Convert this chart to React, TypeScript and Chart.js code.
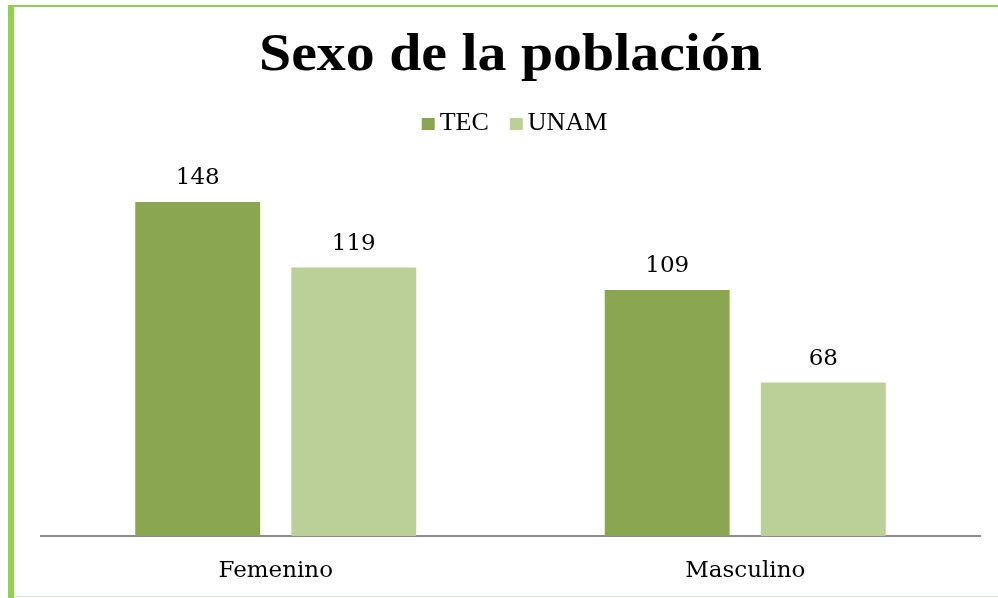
import React, { useEffect, useRef } from "react";
import { Chart, registerables } from "chart.js";

Chart.register(...registerables);

const chartTitle = "Sexo de la población";
const categories = ["Femenino", "Masculino"];
const seriesNames = ["TEC", "UNAM"];
const tecValues = [148, 109];
const unamValues = [119, 68];
const seriesColors = ["#8BA651", "#BBCF98"];

const labelFont = "23px 'DejaVu Serif'";

const decorPlugin = {
  id: "decor",
  beforeDraw(chart: any) {
    const ctx = chart.ctx;
    ctx.save();
    ctx.fillStyle = "#ffffff";
    ctx.fillRect(0, 0, chart.width, chart.height);
    ctx.fillStyle = "#92D050";
    ctx.fillRect(8, 5, 6, chart.height - 5);
    ctx.fillRect(8, 5, chart.width - 8, 2);
    ctx.fillStyle = "#D8EBC8";
    ctx.fillRect(14, chart.height - 2, chart.width - 14, 1);
    ctx.restore();
  },
  afterDraw(chart: any) {
    const ctx = chart.ctx;
    const area = chart.chartArea;
    const cx = (area.left + area.right) / 2;
    ctx.save();
    // title
    ctx.fillStyle = "#000000";
    ctx.font = "bold 53px 'Liberation Serif'";
    ctx.textAlign = "center";
    ctx.textBaseline = "alphabetic";
    const tw = ctx.measureText(chartTitle).width;
    const sx = 503 / tw;
    ctx.save();
    ctx.translate(cx, 70);
    ctx.scale(sx, 1);
    ctx.fillText(chartTitle, 0, 0);
    ctx.restore();
    // legend
    ctx.font = "26px 'Liberation Serif'";
    const box = 13;
    const gap = 5;
    const itemGap = 21;
    const widths = chart.data.datasets.map(
      (d: any) => box + gap + ctx.measureText(d.label).width
    );
    const total = widths.reduce((a: number, b: number) => a + b, 0) + itemGap * (widths.length - 1);
    let x = cx + 4 - total / 2;
    ctx.textAlign = "left";
    chart.data.datasets.forEach((d: any, i: number) => {
      ctx.fillStyle = d.backgroundColor;
      ctx.fillRect(x, 118, box, 12);
      ctx.fillStyle = "#000000";
      ctx.fillText(d.label, x + box + gap, 130);
      x += widths[i] + itemGap;
    });
    // data labels
    ctx.font = labelFont;
    ctx.textAlign = "center";
    ctx.fillStyle = "#000000";
    chart.data.datasets.forEach((d: any, i: number) => {
      const meta = chart.getDatasetMeta(i);
      meta.data.forEach((bar: any, j: number) => {
        ctx.fillText(String(d.data[j]), bar.x, bar.y - 18);
      });
    });
    ctx.restore();
  },
};

export default function App() {
  const ref = useRef<HTMLCanvasElement | null>(null);
  useEffect(() => {
    if (!ref.current) return;
    const chart = new Chart(ref.current, {
      type: "bar",
      data: {
        labels: categories,
        datasets: [
          { label: seriesNames[0], data: tecValues, backgroundColor: seriesColors[0] },
          { label: seriesNames[1], data: unamValues, backgroundColor: seriesColors[1] },
        ],
      },
      options: {
        responsive: false,
        animation: false,
        layout: { padding: { left: 41, right: 18, top: 175, bottom: 0 } },
        datasets: { bar: { categoryPercentage: 0.665, barPercentage: 0.8 } },
        plugins: {
          legend: { display: false },
          title: { display: false },
          tooltip: { enabled: false },
        },
        scales: {
          x: {
            grid: { display: false, drawTicks: false },
            border: { display: true, color: "#8C8C8C", width: 2 },
            ticks: { color: "#000000", font: { family: "'DejaVu Serif'", size: 23 }, padding: 21 },
            afterFit(scale: any) {
              scale.height = 62;
            },
          },
          y: { display: false, min: 0, max: 160 },
        },
      },
      plugins: [decorPlugin],
    });
    return () => chart.destroy();
  }, []);
  return (
    <div style={{ position: "fixed", left: 0, top: 0, width: 998, height: 598 }}>
      <canvas ref={ref} width={998} height={598} style={{ width: 998, height: 598 }} />
    </div>
  );
}
